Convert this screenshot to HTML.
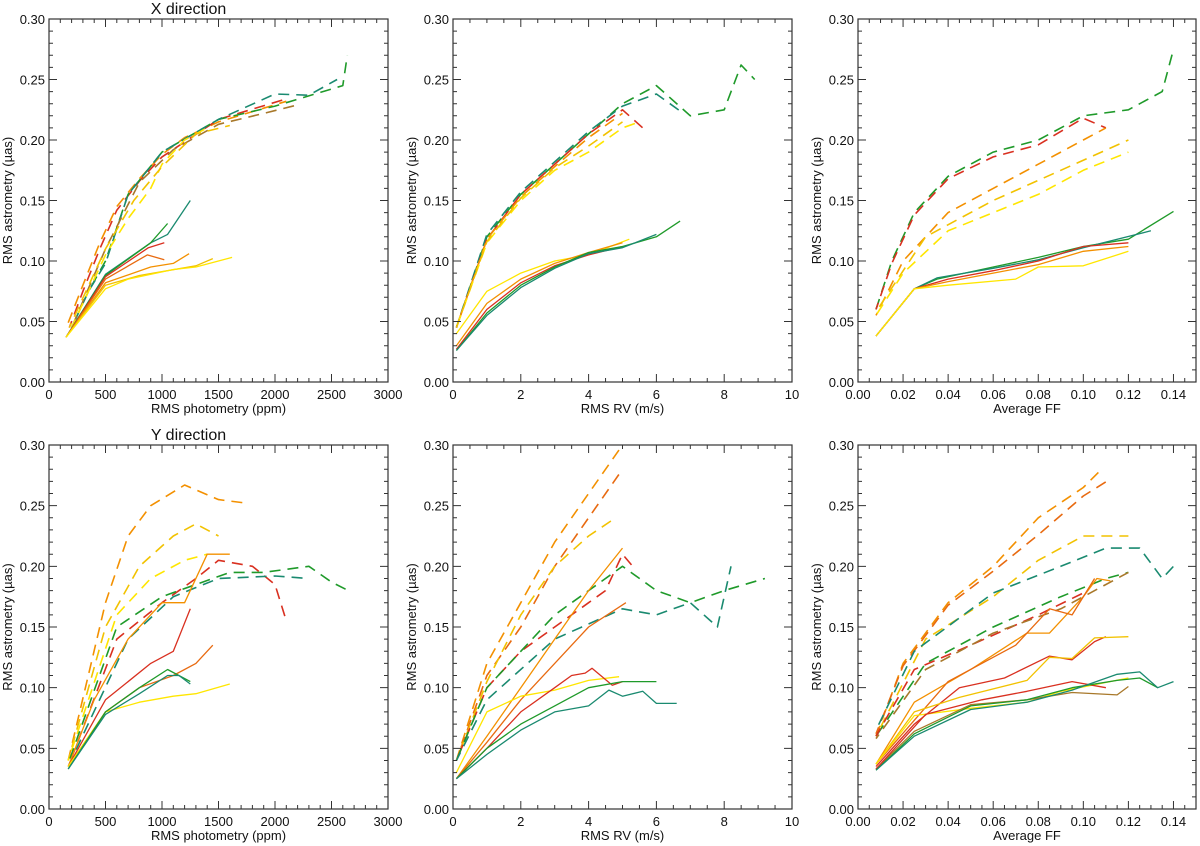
<!DOCTYPE html>
<html><head><meta charset="utf-8">
<style>
html,body{margin:0;padding:0;background:#fff;}
svg{display:block;font-family:"Liberation Sans",Arial,sans-serif;}
</style></head>
<body>
<svg id="fig" width="1200" height="846" viewBox="0 0 1200 846" xmlns="http://www.w3.org/2000/svg"></svg>
<script>
// Colours
const C = {yel:'#ffe600', gold:'#f2c200', org:'#f39000', dorg:'#e86a10', red:'#d93020', brn:'#a8782a', grn:'#1f9a2a', teal:'#1a8a70'};

// ---- Panel 1: X direction, photometry ----
const p1Solid = [
 {c:'teal', x:[150,500,900,1050,1250], y:[.037,.089,.115,.122,.150]},
 {c:'grn',  x:[150,500,900,1050], y:[.037,.088,.115,.131]},
 {c:'red',  x:[150,500,880,1020], y:[.037,.087,.111,.115]},
 {c:'dorg', x:[150,500,870,1020], y:[.037,.085,.105,.101]},
 {c:'org',  x:[150,500,900,1100,1240], y:[.037,.082,.095,.098,.106]},
 {c:'gold', x:[150,500,800,1300,1450], y:[.037,.080,.088,.096,.102]},
 {c:'yel',  x:[150,500,700,1100,1300,1620], y:[.037,.077,.085,.093,.095,.103]}
];
const p1Dash = [
 {c:'org',  x:[170,300,450,600,800,1000,1200,1500,2100], y:[.049,.080,.115,.145,.168,.188,.202,.215,.232]},
 {c:'red',  x:[180,300,450,600,800,1000,1500,2100], y:[.045,.075,.110,.142,.166,.186,.217,.234]},
 {c:'grn',  x:[200,350,500,700,1000,1500,2000,2600,2640], y:[.045,.075,.100,.155,.190,.217,.228,.245,.270]},
 {c:'teal', x:[200,350,500,700,1000,1500,2000,2300,2550], y:[.045,.075,.098,.155,.190,.217,.238,.237,.250]},
 {c:'brn',  x:[200,500,800,1100,1500,1900,2200], y:[.045,.110,.165,.192,.213,.222,.229]},
 {c:'yel',  x:[200,500,700,900,1000,1200,1400], y:[.045,.105,.135,.160,.180,.200,.210]},
 {c:'gold', x:[180,500,750,1000,1300,1600], y:[.045,.110,.150,.178,.205,.212]}
];
// ---- Panel 2: X direction, RV ----
const p2Solid = [
 {c:'yel',  x:[0.1,1,2,3,4,5.2], y:[.040,.075,.090,.100,.105,.118]},
 {c:'org',  x:[0.1,1,2,3,4,5], y:[.030,.065,.085,.098,.107,.115]},
 {c:'red',  x:[0.1,1,2,3,4,5], y:[.027,.060,.082,.096,.105,.112]},
 {c:'grn',  x:[0.1,1,2,3,4,5,6,6.7], y:[.026,.057,.080,.095,.107,.112,.120,.133]},
 {c:'teal', x:[0.1,1,2,3,4,5,6], y:[.026,.055,.078,.094,.106,.111,.122]}
];
const p2Dash = [
 {c:'grn',  x:[0.1,1,2,3,4,5,6,7,8,8.5,8.9], y:[.045,.120,.155,.180,.205,.230,.245,.220,.225,.262,.250]},
 {c:'teal', x:[0.1,1,2,3,4,5,6,6.8], y:[.045,.122,.157,.182,.207,.228,.238,.222]},
 {c:'red',  x:[0.1,1,2,3,4,5,5.6], y:[.045,.118,.155,.180,.205,.225,.210]},
 {c:'org',  x:[0.1,1,2,3,4,5], y:[.045,.118,.153,.178,.202,.222]},
 {c:'yel',  x:[0.1,1,2,3,4,5,5.5], y:[.045,.115,.150,.175,.190,.210,.215]},
 {c:'gold', x:[0.1,1,2,3,4,5], y:[.045,.116,.152,.177,.195,.215]}
];
// ---- Panel 3: X direction, FF ----
const p3Solid = [
 {c:'grn',  x:[.008,.025,.035,.06,.08,.1,.12,.14], y:[.038,.077,.085,.095,.103,.112,.118,.141]},
 {c:'teal', x:[.008,.025,.035,.06,.08,.1,.13], y:[.038,.077,.086,.094,.101,.111,.125]},
 {c:'red',  x:[.008,.025,.04,.06,.08,.1,.12], y:[.038,.077,.085,.092,.100,.112,.115]},
 {c:'org',  x:[.008,.025,.04,.06,.08,.1,.12], y:[.038,.077,.083,.090,.097,.108,.112]},
 {c:'yel',  x:[.008,.025,.04,.07,.08,.1,.12], y:[.038,.077,.080,.085,.095,.096,.108]}
];
const p3Dash = [
 {c:'grn',  x:[.008,.015,.025,.04,.06,.08,.1,.12,.135,.14], y:[.060,.100,.140,.170,.190,.200,.220,.225,.240,.275]},
 {c:'red',  x:[.008,.015,.025,.04,.06,.08,.1,.11], y:[.060,.098,.138,.168,.186,.196,.218,.210]},
 {c:'org',  x:[.008,.02,.04,.06,.08,.1,.11], y:[.055,.100,.140,.160,.180,.200,.210]},
 {c:'gold', x:[.008,.03,.06,.09,.12], y:[.058,.120,.150,.175,.200]},
 {c:'yel',  x:[.008,.02,.04,.06,.08,.1,.12], y:[.055,.090,.125,.140,.155,.175,.190]}
];
// ---- Panel 4: Y direction, photometry ----
const p4Solid = [
 {c:'org',  x:[170,400,700,1000,1200,1400,1600], y:[.035,.090,.140,.170,.170,.210,.210]},
 {c:'red',  x:[170,500,900,1100,1250], y:[.035,.090,.120,.130,.165]},
 {c:'dorg', x:[170,500,800,1100,1300,1450], y:[.035,.080,.100,.110,.120,.135]},
 {c:'yel',  x:[170,500,800,1100,1300,1600], y:[.035,.080,.088,.093,.095,.103]},
 {c:'grn',  x:[170,500,800,1050,1250], y:[.033,.080,.100,.115,.105]},
 {c:'teal', x:[170,500,800,1050,1150,1250], y:[.033,.078,.095,.110,.110,.103]}
];
const p4Dash = [
 {c:'org',  x:[170,500,700,900,1200,1500,1750], y:[.040,.170,.225,.250,.267,.255,.252]},
 {c:'gold', x:[170,500,800,1100,1300,1500], y:[.040,.150,.200,.225,.235,.225]},
 {c:'yel',  x:[170,600,900,1200,1400], y:[.040,.160,.190,.205,.210]},
 {c:'red',  x:[180,600,1000,1300,1500,1800,2000,2100], y:[.037,.140,.170,.190,.205,.200,.185,.155]},
 {c:'grn',  x:[180,600,1000,1300,1600,1900,2300,2500,2650], y:[.040,.150,.175,.185,.195,.195,.200,.187,.180]},
 {c:'teal', x:[180,700,1100,1500,2000,2300], y:[.037,.140,.175,.190,.192,.190]}
];
// ---- Panel 5: Y direction, RV ----
const p5Solid = [
 {c:'org',  x:[0.1,1,2,3,4,5], y:[.025,.060,.100,.140,.180,.215]},
 {c:'dorg', x:[0.1,1,2,3,4,5.1], y:[.025,.055,.090,.120,.150,.170]},
 {c:'yel',  x:[0.1,1,2,3,4,4.9], y:[.030,.080,.093,.098,.106,.109]},
 {c:'red',  x:[0.1,1,2,3,3.5,3.9,4.1,4.7,5], y:[.025,.050,.080,.100,.110,.112,.116,.102,.105]},
 {c:'grn',  x:[0.1,1,2,3,4,5,6], y:[.025,.050,.070,.085,.100,.105,.105]},
 {c:'teal', x:[0.1,1,2,3,4,4.6,5,5.6,6,6.6], y:[.025,.045,.065,.080,.085,.098,.093,.097,.087,.087]}
];
const p5Dash = [
 {c:'org',  x:[0.1,1,2,3,4,5], y:[.040,.120,.170,.220,.260,.300]},
 {c:'dorg', x:[0.1,1,2,3,4,5], y:[.040,.110,.150,.200,.240,.280]},
 {c:'gold', x:[0.1,1,2,3,4,4.8], y:[.040,.105,.160,.200,.225,.240]},
 {c:'red',  x:[0.1,1,2,3,4,4.5,5,5.3], y:[.040,.100,.130,.150,.170,.180,.210,.200]},
 {c:'grn',  x:[0.1,1,2,3,4,5,6,7,8,9.2], y:[.040,.100,.130,.160,.180,.200,.180,.170,.180,.190]},
 {c:'teal', x:[0.1,1,3,5,6,7,7.8,8.2], y:[.040,.090,.140,.165,.160,.170,.150,.200]}
];
// ---- Panel 6: Y direction, FF ----
const p6Solid = [
 {c:'org',  x:[.008,.025,.05,.075,.085,.1,.106,.112], y:[.037,.088,.115,.145,.145,.175,.190,.188]},
 {c:'dorg', x:[.008,.04,.07,.085,.095,.105], y:[.037,.105,.135,.165,.160,.190]},
 {c:'red',  x:[.008,.025,.045,.065,.085,.095,.105,.11], y:[.035,.070,.100,.108,.126,.123,.138,.142]},
 {c:'gold', x:[.008,.025,.045,.075,.085,.095,.105,.12], y:[.037,.080,.092,.106,.125,.124,.141,.142]},
 {c:'yel',  x:[.008,.025,.05,.075,.09,.12], y:[.037,.077,.083,.088,.097,.108]},
 {c:'brn',  x:[.008,.025,.05,.075,.095,.115,.12], y:[.033,.064,.086,.090,.096,.094,.101]},
 {c:'red',  x:[.008,.03,.055,.075,.095,.11], y:[.033,.078,.090,.097,.105,.100]},
 {c:'grn',  x:[.008,.025,.05,.075,.095,.115,.125,.133], y:[.032,.062,.085,.090,.100,.106,.108,.100]},
 {c:'teal', x:[.008,.025,.05,.075,.095,.115,.125,.133,.14], y:[.032,.060,.082,.088,.098,.111,.113,.100,.105]}
];
const p6Dash = [
 {c:'org',  x:[.008,.02,.04,.06,.08,.1,.107], y:[.060,.120,.170,.200,.240,.265,.278]},
 {c:'dorg', x:[.008,.02,.04,.06,.08,.1,.112], y:[.062,.118,.168,.196,.226,.258,.272]},
 {c:'gold', x:[.008,.03,.06,.08,.1,.12], y:[.060,.140,.175,.205,.225,.225]},
 {c:'teal', x:[.008,.025,.06,.09,.11,.125,.135,.14], y:[.065,.130,.178,.200,.215,.215,.190,.200]},
 {c:'grn',  x:[.008,.03,.06,.09,.11,.12], y:[.060,.120,.150,.175,.190,.195]},
 {c:'red',  x:[.008,.025,.05,.08,.1], y:[.060,.115,.135,.160,.178]},
 {c:'brn',  x:[.008,.03,.06,.09,.12], y:[.058,.115,.145,.165,.195]}
];

const panels = [
 {name:'x-photometry', x0:49, x1:388, y0:19, y1:382, xmin:0, xmax:3000, xmaj:500, xmin_:100, xt:['0','500','1000','1500','2000','2500','3000'], xl:'RMS photometry (ppm)', title:'X direction', s:p1Solid, d:p1Dash},
 {name:'x-rv', x0:453, x1:792, y0:19, y1:382, xmin:0, xmax:10, xmaj:2, xmin_:0.5, xt:['0','2','4','6','8','10'], xl:'RMS RV (m/s)', s:p2Solid, d:p2Dash},
 {name:'x-ff', x0:858, x1:1196, y0:19, y1:382, xmin:0, xmax:0.15, xmaj:0.02, xmin_:0.005, xt:['0.00','0.02','0.04','0.06','0.08','0.10','0.12','0.14'], xl:'Average FF', s:p3Solid, d:p3Dash},
 {name:'y-photometry', x0:49, x1:388, y0:445, y1:809, xmin:0, xmax:3000, xmaj:500, xmin_:100, xt:['0','500','1000','1500','2000','2500','3000'], xl:'RMS photometry (ppm)', title:'Y direction', s:p4Solid, d:p4Dash},
 {name:'y-rv', x0:453, x1:792, y0:445, y1:809, xmin:0, xmax:10, xmaj:2, xmin_:0.5, xt:['0','2','4','6','8','10'], xl:'RMS RV (m/s)', s:p5Solid, d:p5Dash},
 {name:'y-ff', x0:858, x1:1196, y0:445, y1:809, xmin:0, xmax:0.15, xmaj:0.02, xmin_:0.005, xt:['0.00','0.02','0.04','0.06','0.08','0.10','0.12','0.14'], xl:'Average FF', s:p6Solid, d:p6Dash}
];
const yTicks = ['0.00','0.05','0.10','0.15','0.20','0.25','0.30'];

const NS='http://www.w3.org/2000/svg';
const svg=document.getElementById('fig');
function mk(tag, attrs, parent){const e=document.createElementNS(NS,tag);for(const k in attrs)e.setAttribute(k,attrs[k]);(parent||svg).appendChild(e);return e;}

panels.forEach((p)=>{
  const g=mk('g',{});
  
  
  const sx=v=>p.x0+(v-p.xmin)/(p.xmax-p.xmin)*(p.x1-p.x0);
  const sy=v=>p.y1-(v/0.30)*(p.y1-p.y0);
  const drawSeries=(list,dashed)=>{
    list.forEach((s,i)=>{
      const d=s.x.map((xv,j)=>(j?'L':'M')+sx(xv).toFixed(1)+' '+sy(s.y[j]).toFixed(1)).join(' ');
      const a={d:d,fill:'none',stroke:C[s.c],'stroke-width':dashed?1.6:1.3,'stroke-linejoin':'round'};
      if(dashed){a['stroke-dasharray']='11 7';a['stroke-dashoffset']=i*4;}
      const path=mk('path',a,g);
      
      
    });
  };
  drawSeries(p.d,true);
  drawSeries(p.s,false);
  const fr=mk('rect',{x:p.x0,y:p.y0,width:p.x1-p.x0,height:p.y1-p.y0,fill:'none',stroke:'#333','stroke-width':1.2},g);
  
  
  let tp='';
  for(let k=0;k<=30;k++){const v=k/100;const y=sy(v);const L=(k%5===0)?8:4;
    tp+=`M${p.x0} ${y}h${L}M${p.x1} ${y}h${-L}`;}
  const nx=Math.round((p.xmax-p.xmin)/p.xmin_);
  const ratio=Math.round(p.xmaj/p.xmin_);
  for(let k=0;k<=nx;k++){const x=sx(p.xmin+k*p.xmin_);const L=(k%ratio===0)?8:4;
    tp+=`M${x} ${p.y1}v${-L}M${x} ${p.y0}v${L}`;}
  const ticks=mk('path',{d:tp,stroke:'#333','stroke-width':1,fill:'none'},g);
  
  
  yTicks.forEach((t)=>{
    const tx=mk('text',{x:p.x0-4,y:sy(parseFloat(t))+5,'font-size':13,'text-anchor':'end',fill:'#111'},g);
    tx.textContent=t;
    
    
  });
  p.xt.forEach((t)=>{
    const tx=mk('text',{x:sx(parseFloat(t)),y:p.y1+17,'font-size':13,'text-anchor':'middle',fill:'#111'},g);
    tx.textContent=t;
    
    
  });
  const xl=mk('text',{x:(p.x0+p.x1)/2,y:p.y1+31,'font-size':13,'text-anchor':'middle',fill:'#111'},g);
  xl.textContent=p.xl;
  
  
  const yx=p.x0-37, yc=(p.y0+p.y1)/2;
  const yl=mk('text',{x:yx,y:yc,'font-size':13,'text-anchor':'middle',fill:'#111',transform:`rotate(-90 ${yx} ${yc})`},g);
  yl.textContent='RMS astrometry (\u00b5as)';
  
  
  if(p.title){
    const tt=mk('text',{x:(p.x0+p.x1)/2-30,y:p.y0-5,'font-size':16,'text-anchor':'middle',fill:'#111'},g);
    tt.textContent=p.title;
    
    
  }
});
</script>
</body></html>
